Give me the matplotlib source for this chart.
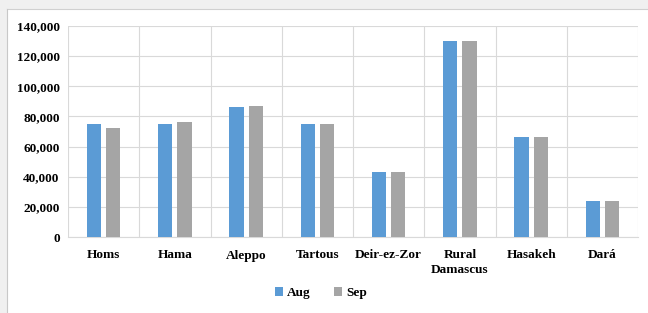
"""Grouped bar chart: Aug vs Sep values by governorate."""

import matplotlib
matplotlib.use("Agg")
import matplotlib.pyplot as plt
import numpy as np
from matplotlib.patches import Rectangle
from matplotlib.ticker import FuncFormatter, MultipleLocator

categories = ["Homs", "Hama", "Aleppo", "Tartous", "Deir-ez-Zor",
              "Rural\nDamascus", "Hasakeh", "Dará"]
aug = [75000, 75000, 86000, 75000, 43000, 130000, 66500, 24000]
sep = [72000, 76000, 87000, 75000, 43000, 130000, 66500, 24000]

BLUE = "#5b9bd5"
GRAY = "#a5a5a5"
GRID = "#d9d9d9"

plt.rcParams["font.family"] = ["Liberation Serif", "DejaVu Serif"]
plt.rcParams["font.weight"] = "bold"

fig = plt.figure(figsize=(6.48, 3.13), dpi=100, facecolor="white")

# grey frame round the chart panel (top and left strips)
fig.patches.append(Rectangle((0, 1 - 9 / 313), 1, 9 / 313, transform=fig.transFigure,
                             facecolor="#f0f0f0", edgecolor="none", zorder=0))
fig.patches.append(Rectangle((0, 0), 7 / 648, 1, transform=fig.transFigure,
                             facecolor="#f0f0f0", edgecolor="none", zorder=0))
fig.lines.append(plt.Line2D([7 / 648, 1], [1 - 9 / 313] * 2, transform=fig.transFigure,
                            color="#d0d0d0", lw=0.8))
fig.lines.append(plt.Line2D([7 / 648] * 2, [0, 1 - 9 / 313], transform=fig.transFigure,
                            color="#c8c8c8", lw=0.8))

ax = fig.add_axes([68 / 648, 1 - 237 / 313, 570 / 648, 211 / 313])

x = np.arange(len(categories))
w = 0.2
ax.bar(x - 0.135, aug, width=w, color=BLUE, label="Aug", zorder=3)
ax.bar(x + 0.135, sep, width=w, color=GRAY, label="Sep", zorder=3)

ax.set_xlim(-0.5, len(categories) - 0.5)
ax.set_ylim(0, 140000)
ax.yaxis.set_major_locator(MultipleLocator(20000))
ax.yaxis.set_major_formatter(FuncFormatter(lambda v, p: f"{int(v):,}"))

ax.set_xticks(x)
ax.set_xticklabels(categories, fontsize=9.5, fontweight="bold", linespacing=1.3)
ax.set_xticks(np.arange(-0.5, len(categories)), minor=True)
ax.tick_params(axis="x", which="both", length=0, pad=9)
ax.tick_params(axis="y", length=0, pad=6, labelsize=9.5)
for lbl in ax.get_yticklabels():
    lbl.set_fontweight("bold")

ax.grid(axis="y", which="major", color=GRID, lw=0.8, zorder=0)
ax.grid(axis="x", which="minor", color=GRID, lw=0.8, zorder=0)
ax.grid(axis="x", which="major", visible=False)
for s in ax.spines.values():
    s.set_visible(False)
ax.spines["bottom"].set_visible(True)
ax.spines["bottom"].set_color(GRID)

leg = fig.legend(loc="center", bbox_to_anchor=(321 / 648, 1 - 293 / 313), ncol=2,
                 frameon=False, fontsize=9.5, handlelength=0.6, handleheight=0.6,
                 handletextpad=0.3, columnspacing=1.8)
for t in leg.get_texts():
    t.set_fontweight("bold")

fig.savefig("out.png", dpi=100, facecolor="white")
